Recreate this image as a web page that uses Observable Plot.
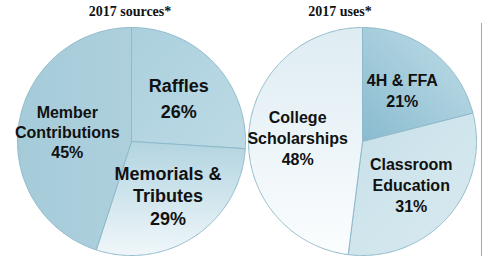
<!DOCTYPE html>
<html><head><meta charset="utf-8">
<script src="https://cdn.jsdelivr.net/npm/d3@7"></script>
<script src="https://cdn.jsdelivr.net/npm/@observablehq/plot@0.6"></script>
<style>
body{margin:0;background:#fff;}
#wrap{position:relative;width:484px;height:256px;overflow:hidden;}
#head{position:relative;height:24px;font-family:"Liberation Serif","Times New Roman",serif;font-weight:bold;font-size:14px;color:#111;}
#head span{position:absolute;top:4px;transform:translateX(-50%);white-space:nowrap;}
#edge{position:absolute;left:481px;top:23px;width:0;height:233px;border-left:1px solid #a6a6a6;}
</style>
</head><body>
<div id="wrap"><div id="head"></div><div id="chart"></div><div id="edge"></div></div>
<script>
// ---- data ----
const titles = ["2017 sources*", "2017 uses*"];
const sourceLabels = ["Raffles", "Memorials &\nTributes", "Member\nContributions"];
const sourceValues = [26, 29, 45];
const useLabels = ["4H & FFA", "Classroom\nEducation", "College\nScholarships"];
const useValues = [21, 31, 48];

// ---- layout / style ----
const W = 484, H = 232;
const pies = [
  {id: "s", title: titles[0], titleX: 130, labels: sourceLabels, values: sourceValues,
   cx: 131, cy: 117, r: 114, sizes: [18, 18, 16], lh: [1.45, 1.25, 1.27],
   grads: [
     {x1:0,y1:0,x2:1,y2:1, stops:["#abd0dd","#bcdae5"]},
     {x1:0,y1:0,x2:0,y2:1, stops:["#b2d4e0","#f0f7fa"]},
     {x1:0,y1:0,x2:1,y2:0, stops:["#a5cbd9","#aed0dd"]}
   ]},
  {id: "u", title: titles[1], titleX: 340, labels: useLabels, values: useValues,
   cx: 362, cy: 117, r: 114, sizes: [16, 16, 16], lh: [1.3, 1.3, 1.3],
   grads: [
     {x1:0,y1:1,x2:1,y2:0, stops:["#89bbcf","#c2dee8"]},
     {x1:0,y1:0,x2:1,y2:1, stops:["#c8e0e9","#d9eaf0"]},
     {x1:0,y1:0,x2:0,y2:1, stops:["#deecf2","#fbfdfe"]}
   ]}
];

const marks = [];
const defs = [];
for (const p of pies) {
  const arcs = d3.pie().sort(null).startAngle(0).endAngle(2 * Math.PI)(p.values);
  const labelRows = [];
  arcs.forEach((a, i) => {
    const pts = [{x: p.cx, y: p.cy}];
    const n = Math.max(8, Math.ceil((a.endAngle - a.startAngle) / 0.01));
    for (let k = 0; k <= n; k++) {
      const t = a.startAngle + (a.endAngle - a.startAngle) * k / n;
      pts.push({x: p.cx + p.r * Math.sin(t), y: p.cy - p.r * Math.cos(t)});
    }
    pts.push({x: p.cx, y: p.cy});
    const gid = `g${p.id}${i}`;
    const g = p.grads[i];
    defs.push(`<linearGradient id="${gid}" x1="${g.x1}" y1="${g.y1}" x2="${g.x2}" y2="${g.y2}"><stop offset="0" stop-color="${g.stops[0]}"/><stop offset="1" stop-color="${g.stops[1]}"/></linearGradient>`);
    marks.push(Plot.line(pts, {x: "x", y: "y", fill: `url(#${gid})`, stroke: "#8fbacb", strokeWidth: 1, strokeLinejoin: "round"}));
    const mid = (a.startAngle + a.endAngle) / 2;
    const rr = p.r * 0.57;
    labelRows.push({x: p.cx + rr * Math.sin(mid), y: p.cy - rr * Math.cos(mid),
      text: `${p.labels[i]}\n${p.values[i]}%`, size: p.sizes[i], lh: p.lh[i]});
  });
  for (const row of labelRows) {
    marks.push(Plot.text([row], {x: "x", y: "y", text: "text", fontSize: row.size, lineHeight: row.lh,
      fontWeight: "bold", fontFamily: "Liberation Sans, Arial, sans-serif", fill: "#111"}));
  }
  const s = document.createElement("span");
  s.textContent = p.title;
  s.style.left = p.titleX + "px";
  document.getElementById("head").appendChild(s);
}

const svg = Plot.plot({
  width: W, height: H,
  margin: 0,
  x: {domain: [0, W], range: [0, W], axis: null},
  y: {domain: [0, H], range: [0, H], axis: null},
  marks
});
const ns = "http://www.w3.org/2000/svg";
const d = document.createElementNS(ns, "defs");
d.innerHTML = defs.join("");
svg.insertBefore(d, svg.firstChild);
svg.style.display = "block";
document.getElementById("chart").appendChild(svg);
</script>
</body></html>
